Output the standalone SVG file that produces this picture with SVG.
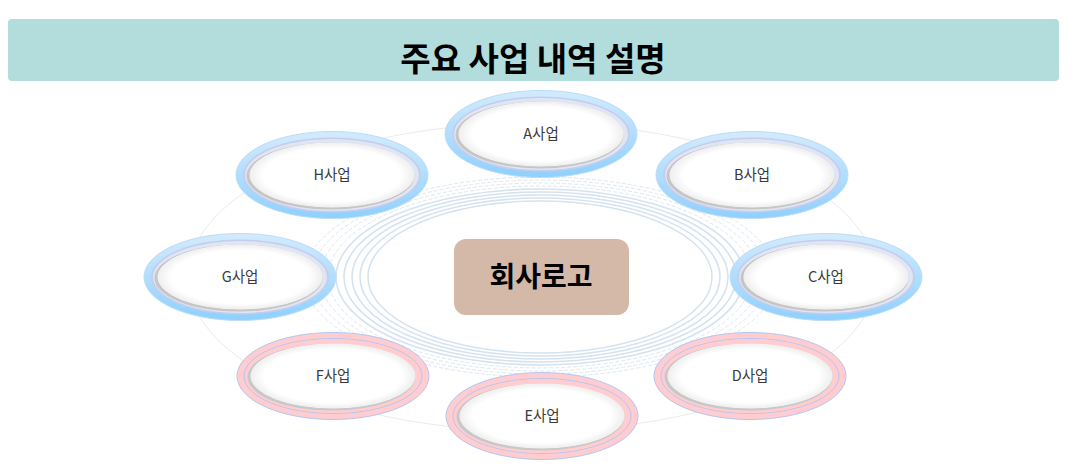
<svg xmlns="http://www.w3.org/2000/svg" width="1084" height="471" viewBox="0 0 1084 471">
<defs>
<linearGradient id="gBlue" x1="0" y1="0" x2="0" y2="1">
<stop offset="0" stop-color="#d3ebfd"/>
<stop offset="1" stop-color="#8ed0fd"/>
</linearGradient>
<radialGradient id="gWhite" cx="0.5" cy="0.5" r="0.5">
<stop offset="0.84" stop-color="#ffffff"/>
<stop offset="1" stop-color="#efefef"/>
</radialGradient>
<g id="nodeBlue">
<ellipse rx="96" ry="43.5" fill="url(#gBlue)" stroke="#bcdcf8" stroke-width="1"/>
<ellipse rx="89" ry="37.5" fill="#c4cdec"/>
<ellipse rx="87" ry="36" fill="#dfe5f3"/>
<ellipse cx="-1.5" cy="1" rx="84" ry="33.5" fill="#c6c6c6"/>
<ellipse rx="82" ry="32" fill="url(#gWhite)" stroke="#f4f4f4" stroke-width="1"/>
</g>
<g id="nodePink">
<ellipse rx="96" ry="43.5" fill="#ffcdd0" stroke="#b4c6f2" stroke-width="1"/>
<ellipse rx="89" ry="37.5" fill="none" stroke="#b4c6f2" stroke-width="1"/>
<ellipse rx="86" ry="35.5" fill="none" stroke="#ffcdd0" stroke-width="3"/>
<ellipse cx="-1.5" cy="1" rx="84" ry="33.5" fill="#c8c8c8"/>
<ellipse rx="82" ry="32" fill="url(#gWhite)" stroke="#f4f4f4" stroke-width="1"/>
</g>
</defs>
<style>
.lbl{font-family:"Noto Sans CJK KR","Noto Sans",sans-serif;font-size:14.5px;fill:#3a3a3a;text-anchor:middle}
.ring{fill:none;stroke:#d5e2f0;stroke-width:1.6}
.ringd{fill:none;stroke:#dde7f2;stroke-width:1;stroke-dasharray:4 2}
</style>
<rect width="1084" height="471" fill="#ffffff"/>
<g id="title">
<rect x="8" y="19" width="1051" height="62" rx="4" fill="#b3dcdd"/>
<text x="533" y="71" font-family="Noto Sans CJK KR, sans-serif" font-size="33" font-weight="bold" text-anchor="middle" fill="#000">주요 사업 내역 설명</text>
</g>
<g id="background">
<ellipse cx="532" cy="277" rx="344" ry="154" fill="none" stroke="#ebebeb" stroke-width="1"/>
<ellipse class="ringd" cx="540" cy="277" rx="236" ry="100"/>
<ellipse class="ringd" cx="540" cy="277" rx="228" ry="97"/>
<ellipse class="ringd" cx="540" cy="277" rx="220" ry="94"/>
<ellipse class="ringd" cx="540" cy="277" rx="212" ry="91"/>
<ellipse class="ring" cx="540" cy="277" rx="204" ry="88"/>
<ellipse class="ring" cx="540" cy="277" rx="196" ry="85"/>
<ellipse class="ring" cx="540" cy="277" rx="188" ry="82"/>
<ellipse class="ring" cx="540" cy="277" rx="180" ry="79"/>
<ellipse class="ring" cx="540" cy="277" rx="172" ry="76"/>
<ellipse cx="540" cy="277" rx="171" ry="75" fill="#ffffff"/>
</g>
<g id="connectors"></g>
<g id="center">
<rect x="454" y="239" width="175" height="76" rx="12" fill="#d4b8a8"/>
<text x="541" y="287" font-family="Noto Sans CJK KR, sans-serif" font-size="28" font-weight="bold" text-anchor="middle" fill="#000">회사로고</text>
</g>
<g id="nodeA"><use href="#nodeBlue" x="541" y="134"/><text class="lbl" x="541" y="139">A사업</text></g>
<g id="nodeB"><use href="#nodeBlue" x="752" y="175"/><text class="lbl" x="752" y="180">B사업</text></g>
<g id="nodeC"><use href="#nodeBlue" x="826" y="277"/><text class="lbl" x="826" y="282">C사업</text></g>
<g id="nodeD"><use href="#nodePink" x="750" y="376"/><text class="lbl" x="750" y="381">D사업</text></g>
<g id="nodeE"><use href="#nodePink" x="542" y="416"/><text class="lbl" x="542" y="421">E사업</text></g>
<g id="nodeF"><use href="#nodePink" x="333" y="376"/><text class="lbl" x="333" y="381">F사업</text></g>
<g id="nodeG"><use href="#nodeBlue" x="240" y="277"/><text class="lbl" x="240" y="282">G사업</text></g>
<g id="nodeH"><use href="#nodeBlue" x="332" y="175"/><text class="lbl" x="332" y="180">H사업</text></g>
</svg>
